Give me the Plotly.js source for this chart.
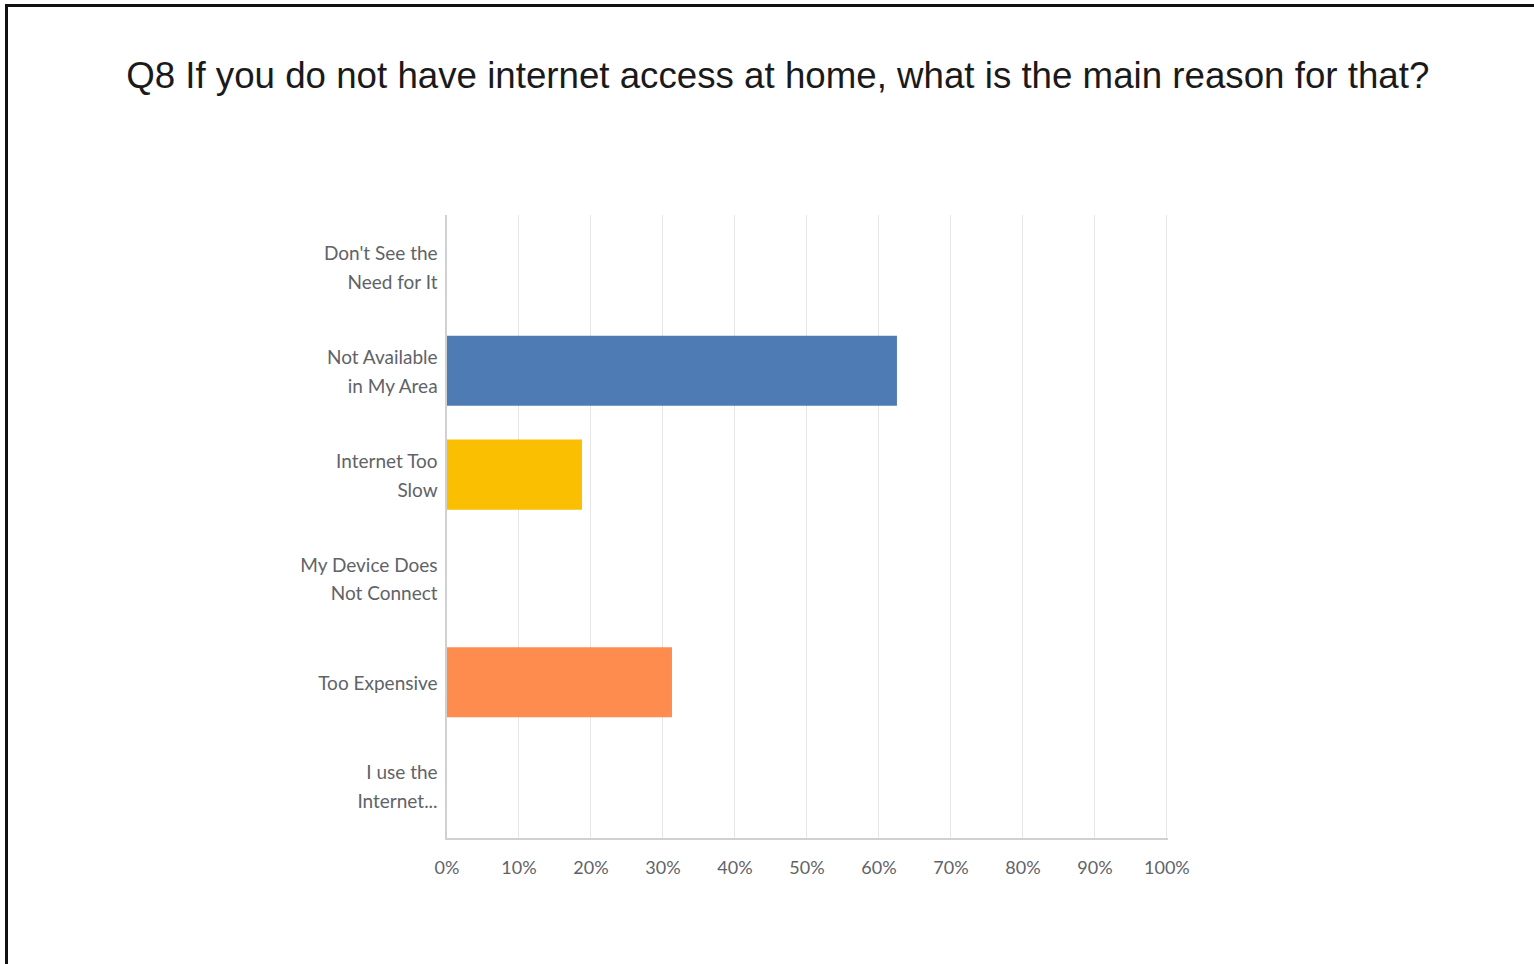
<!DOCTYPE html>
<html>
<head>
<meta charset="utf-8">
<script src="https://cdn.plot.ly/plotly-3.0.1.min.js"></script>
<style>
  html, body { margin: 0; padding: 0; background: #fff; overflow: hidden; }
  #frame { position: absolute; left: 5px; top: 4px; width: 1540px; height: 980px; border-left: 3px solid #111; border-top: 3px solid #111; }
  #chart { position: absolute; left: 0; top: 0; width: 1534px; height: 964px; }
</style>
</head>
<body>
<div id="frame"></div>
<div id="chart"></div>
<script>
const categories = [
  "Don't See the<br>Need for It",
  "Not Available<br>in My Area",
  "Internet Too<br>Slow",
  "My Device Does<br>Not Connect",
  "Too Expensive",
  "I use the<br>Internet..."
];
const values = [0, 62.5, 18.75, 0, 31.25, 0];
const barColors = ["#4f7bb5", "#4f7bb5", "#f9bf00", "#4f7bb5", "#ff8c4f", "#4f7bb5"];
const xTickVals = [0, 10, 20, 30, 40, 50, 60, 70, 80, 90, 100];
const xTickText = ["0%", "10%", "20%", "30%", "40%", "50%", "60%", "70%", "80%", "90%", "100%"];
const titleText = "Q8 If you do not have internet access at home, what is the main reason for that?";

// Tick label text styled at 19px; the axis font size sets the wider line spacing.
const yTickText = categories.map(c =>
  c.split("<br>").map(l => "<span style='font-size:19px'>" + l + "</span>").join("<br>")
);

const trace = {
  type: "bar",
  orientation: "h",
  y: categories,
  x: values,
  marker: { color: barColors },
  hoverinfo: "none"
};

const layout = {
  width: 1534,
  height: 964,
  paper_bgcolor: "rgba(0,0,0,0)",
  plot_bgcolor: "rgba(0,0,0,0)",
  margin: { l: 447, r: 366, t: 215, b: 126 },
  bargap: 0.325,
  showlegend: false,
  title: {
    text: titleText,
    x: 0.507,
    xref: "container",
    xanchor: "center",
    y: 0.922,
    yref: "container",
    yanchor: "middle",
    font: { family: "Liberation Sans, Arial, sans-serif", size: 36.7, color: "#1a1a1a" }
  },
  xaxis: {
    range: [0, 100.15],
    tickvals: xTickVals,
    ticktext: xTickText,
    showgrid: true,
    gridcolor: "#e6e6e6",
    gridwidth: 1,
    zeroline: false,
    showline: true,
    linecolor: "#d0d0d0",
    linewidth: 2,
    ticks: "",
    ticklabelstandoff: 12,
    tickfont: { family: "Lato, sans-serif", size: 18, color: "#5f6368" },
    fixedrange: true
  },
  yaxis: {
    autorange: "reversed",
    tickmode: "array",
    tickvals: categories,
    ticktext: yTickText,
    showgrid: false,
    zeroline: false,
    showline: true,
    linecolor: "#d0d0d0",
    linewidth: 2,
    ticks: "",
    ticklabelstandoff: 3,
    tickfont: { family: "Lato, sans-serif", size: 22, color: "#5f6368" },
    fixedrange: true
  }
};

Plotly.newPlot("chart", [trace], layout, { displayModeBar: false, staticPlot: true });
</script>
</body>
</html>
